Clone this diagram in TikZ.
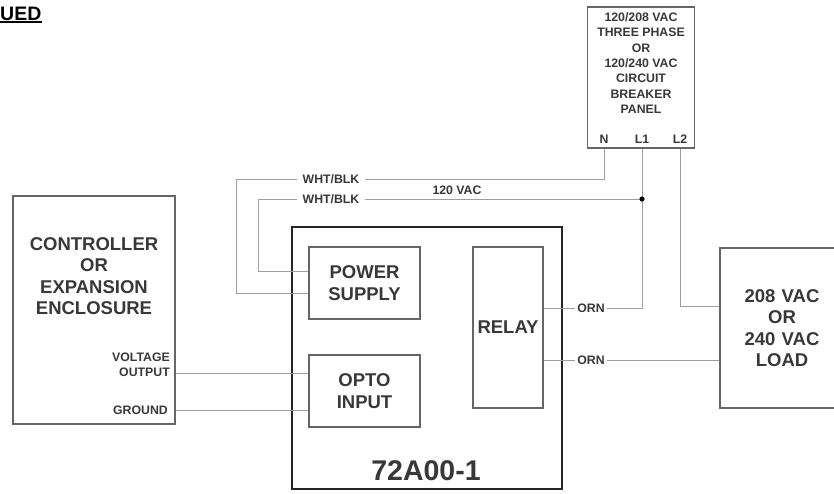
\documentclass[tikz,border=0pt]{standalone}
\usepackage{fontspec}
\setmainfont{Liberation Sans}
\usetikzlibrary{calc}
\usetikzlibrary{positioning}
\definecolor{inkgray}{gray}{0.22}
\tikzset{
    box/.style={draw=black!60, line width=1.6pt, inner sep=0pt},
    wire/.style={draw=black!38, line width=0.9pt},
    biglabel/.style={font=\fontsize{18.5}{21.5}\selectfont\bfseries, text=inkgray, align=center, inner sep=0pt},
    smalllabel/.style={font=\fontsize{12.3}{15.4}\selectfont\bfseries, text=inkgray, align=center, inner sep=0pt},
    wirelabel/.style={smalllabel, inner xsep=5pt},
    ornlabel/.style={smalllabel, inner xsep=2pt},
}
\begin{document}
\begin{tikzpicture}[x=1pt, y=-1pt]
            \useasboundingbox (0,0) rectangle (834,493);

            % Clipped heading
            \node[anchor=base west, inner sep=0pt, font=\fontsize{19.5}{22}\selectfont\bfseries] (heading) at (0,20) {UED};
            \draw[black, line width=1.6pt] (heading.west |- 0,22) -- (heading.east |- 0,22);

            % Panel
            \node[box, minimum width=107pt, minimum height=141pt] (panel) at (641,77.5) {};
            \node[smalllabel] (paneltext) at (641,63) {120/208 VAC\\THREE PHASE\\OR\\120/240 VAC\\CIRCUIT\\BREAKER\\PANEL};
            \node[smalllabel] (pinn) at (604,139) {N};
            \node[smalllabel] (pinla) at (642,139) {L1};
            \node[smalllabel] (pinlb) at (680,139) {L2};

            % Controller
            \node[box, minimum width=162pt, minimum height=228pt] (controller) at (94,310) {};
            \node[biglabel] (controllertext) at (94,276) {CONTROLLER\\OR\\EXPANSION\\ENCLOSURE};
            \node[smalllabel, align=right, anchor=east] (voltage) at (170,364.5) {VOLTAGE\\OUTPUT};
            \node[smalllabel, anchor=east] (ground) at (168,410) {GROUND};

            % Module
            \node[draw=black!85, line width=1.3pt, minimum width=270pt, minimum height=262pt] (module) at (427,358) {};
            \node[font=\fontsize{28.5}{32}\selectfont\bfseries, text=inkgray, inner sep=0pt] (moduletext) at (426,471) {72A00-1};
            \node[box, biglabel, minimum width=111pt, minimum height=72pt] (psu) at (364.5,283) {POWER\\SUPPLY};
            \node[box, biglabel, minimum width=111pt, minimum height=72pt] (opto) at (364.5,391) {OPTO\\INPUT};
            \node[box, biglabel, minimum width=70pt, minimum height=161pt] (relay) at (508,327.5) {RELAY};

            % Load
            \node[box, biglabel, minimum width=124pt, minimum height=160pt, text width=124pt] (load) at (782,328) {208 VAC\\OR\\240 VAC\\LOAD};

            % Wire labels
            \node[wirelabel] (whtn) at (331,179) {WHT/BLK};
            \node[wirelabel] (whtl) at (331,199) {WHT/BLK};
            \node[smalllabel] (vac) at (457,190) {120 VAC};
            \node[ornlabel] (orna) at (591,308) {ORN};
            \node[ornlabel] (ornb) at (591,360) {ORN};

            % Bends
            \coordinate (bendn) at (236,179);
            \coordinate (bendl) at (258,199);
            \coordinate (psun) at (psu.west |- 0,293);
            \coordinate (psul) at (psu.west |- 0,271);
            \coordinate (optoa) at (opto.west |- 0,373);
            \coordinate (optob) at (opto.west |- 0,410);
            \coordinate (contra) at (controller.east |- optoa);
            \coordinate (contrb) at (controller.east |- optob);
            \coordinate (relaya) at (relay.east |- orna);
            \coordinate (relayb) at (relay.east |- ornb);
            \coordinate (loadb) at (load.west |- ornb);
            \coordinate (loada) at (load.west |- 0,306);
            \coordinate (junction) at (pinla |- whtl);

            % Wires to the panel
            \draw[wire] (whtn.east) -- (pinn |- whtn) -- (pinn |- panel.south);
            \draw[wire] (whtl.east) -- (junction);
            \draw[wire] (pinla |- panel.south) -- (pinla |- orna) -- (orna.east);
            \draw[wire] (pinlb |- panel.south) -- (pinlb |- loada) -- (loada);
            \fill[black] (junction) circle (2.6pt);

            % Wires to the power supply
            \draw[wire] (whtn.west) -- (bendn) |- (psun);
            \draw[wire] (whtl.west) -- (bendl) |- (psul);

            % Signal wires
            \draw[wire] (contra) -- (optoa);
            \draw[wire] (contrb) -- (optob);

            % Relay wires
            \draw[wire] (relaya) -- (orna.west);
            \draw[wire] (relayb) -- (ornb.west);
            \draw[wire] (ornb.east) -- (loadb);

\end{tikzpicture}
\end{document}
